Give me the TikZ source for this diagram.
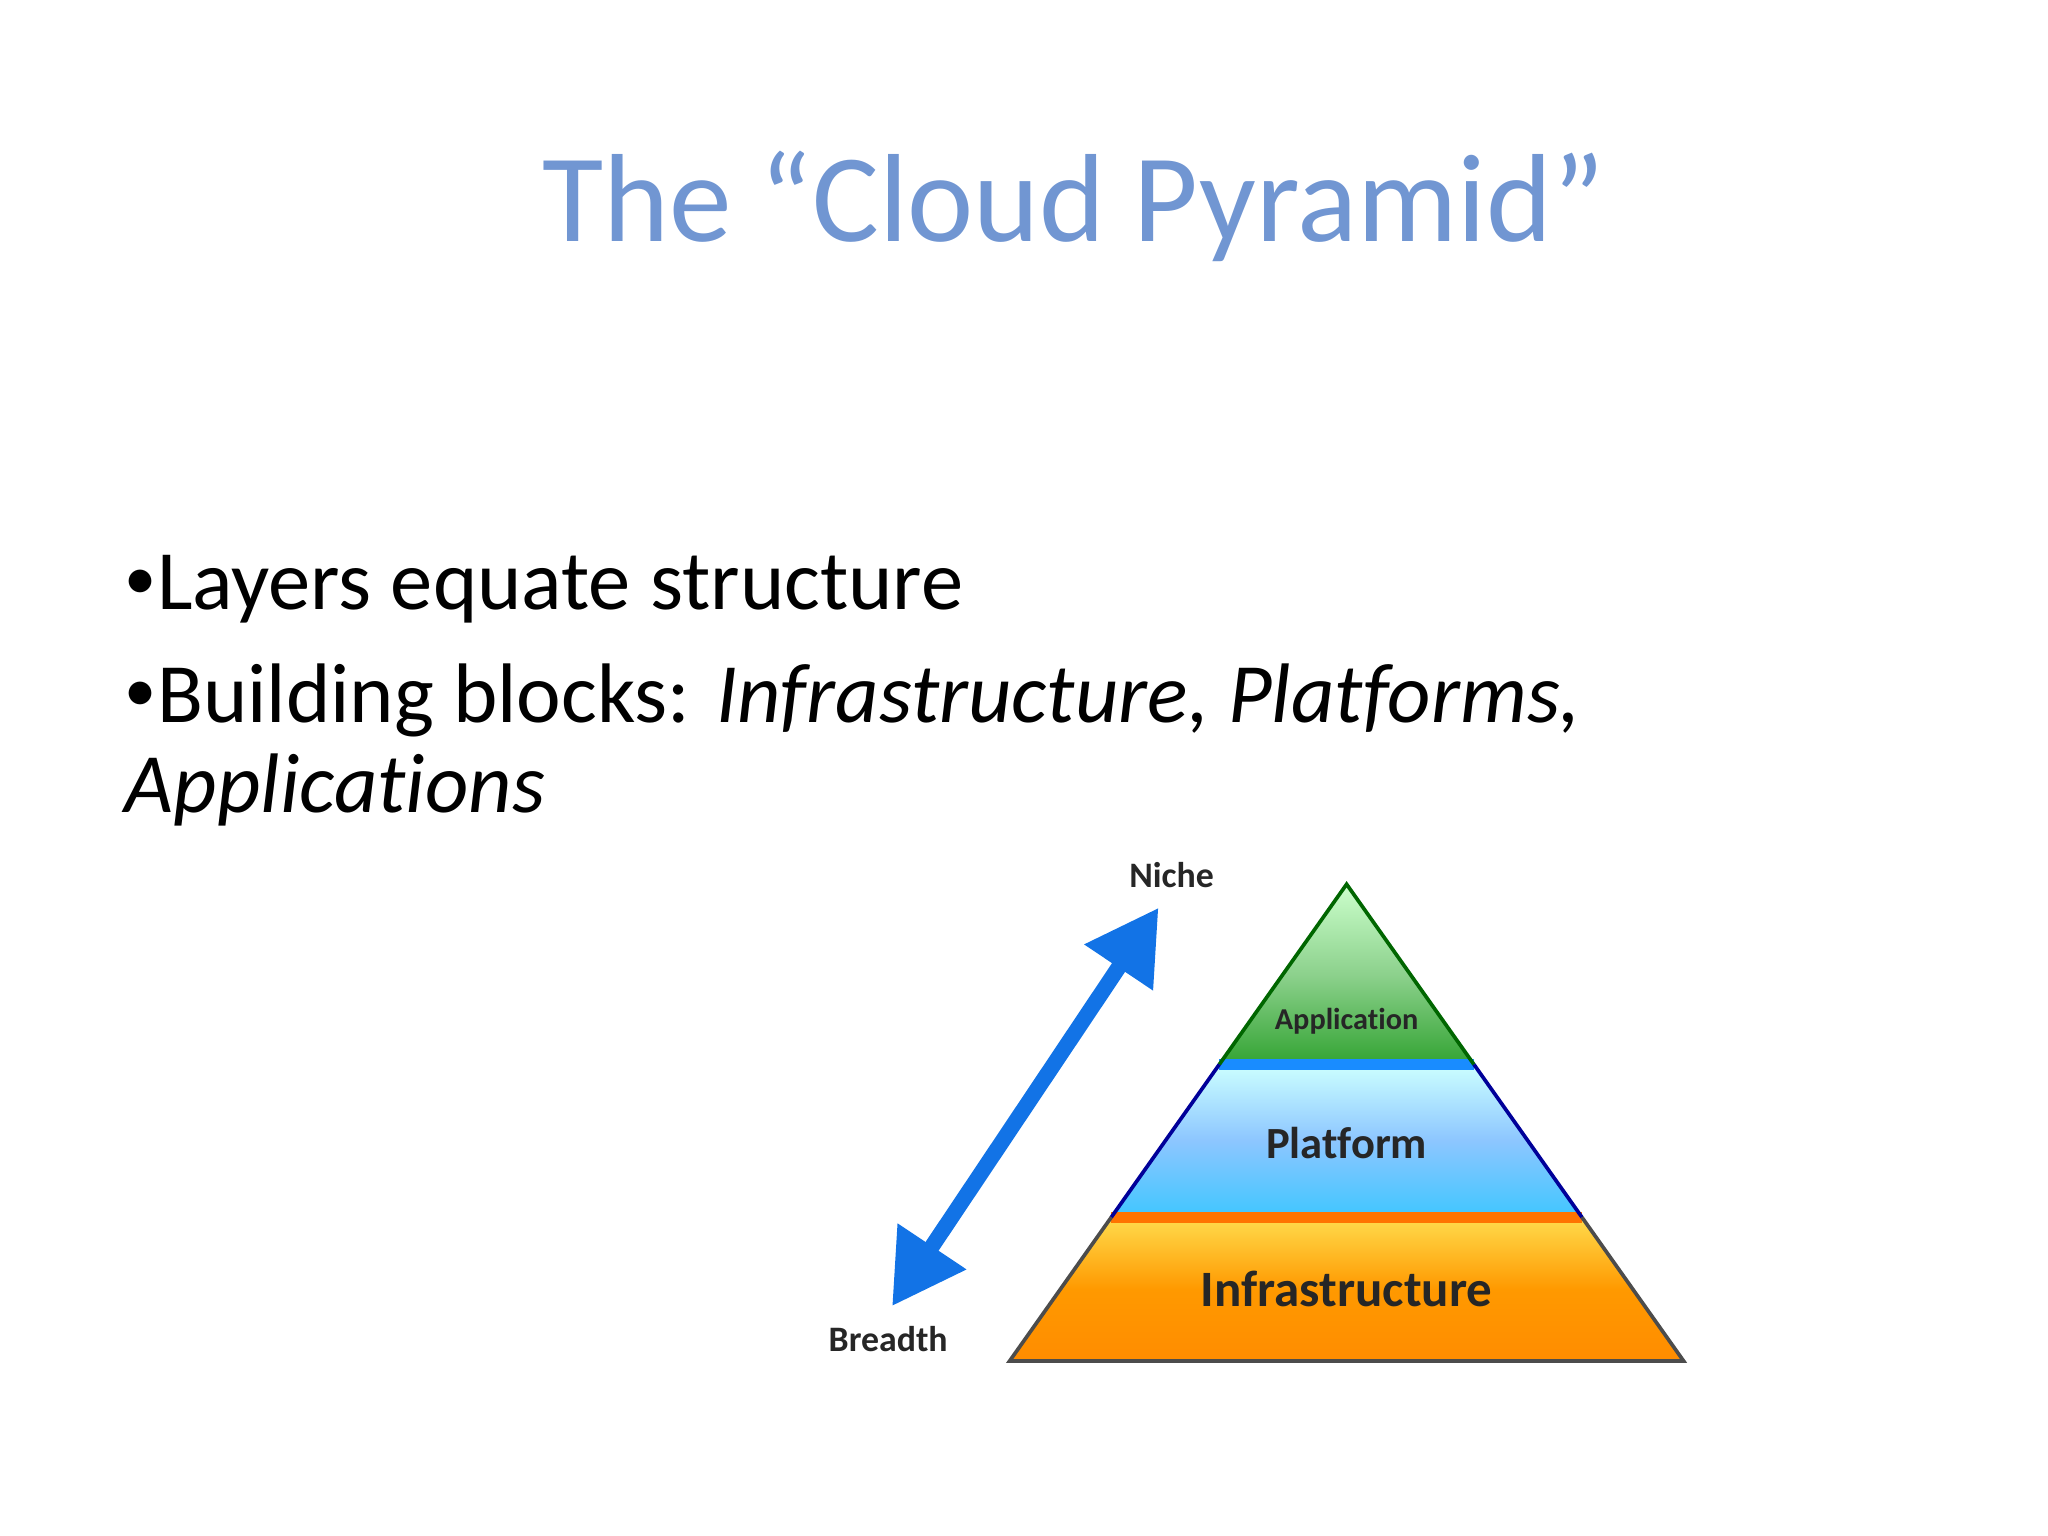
\documentclass[tikz,border=0pt]{standalone}
\usepackage{fontspec}
\setmainfont{Carlito}[RawFeature=-liga]
\usetikzlibrary{arrows.meta}
\definecolor{titleblue}{HTML}{7196D2}
\definecolor{arrblue}{HTML}{1273E6}
\newcommand{\sbul}{{\fontsize{14}{16}\selectfont\raisebox{0.35ex}{•}}}
\tikzset{
 lbl/.style={font=\bfseries, text=black!85},
 bul/.style={anchor=base west, font=\fontsize{18.4}{22}\selectfont, inner sep=0pt}
}
\begin{document}
\begin{tikzpicture}[x=0.01cm,y=-0.01cm]
\useasboundingbox (0,0) rectangle (1568,1176);
\node[text=titleblue, font=\fontsize{27.3}{32}\selectfont, anchor=base] (title) at (822,185) {The “Cloud Pyramid”};
\node[bul] (b1) at (95,467) {\sbul Layers equate structure};
\node[bul] (b2) at (95,553) {\sbul Building blocks: \textit{Infrastructure, Platforms,}};
\node[bul] (b3) at (95,622) {\textit{Applications}};
% pyramid layers
\shade[top color=green!20!white, bottom color=green!55!black!80, middle color=green!60!black!45] (1031,677) -- (1128.5,815) -- (933.5,815) -- cycle;
\shade[top color=cyan!20!white, bottom color=blue!30!cyan!75, middle color=cyan!50!blue!45] (933.5,815) -- (1128.5,815) -- (1211.2,932) -- (850.8,932) -- cycle;
\shade[top color=orange!40!yellow!70, bottom color=orange!90!yellow, middle color=orange!80!yellow] (850.8,932) -- (1211.2,932) -- (1289,1042) -- (773,1042) -- cycle;
\draw[blue!50!cyan!90, line width=2.5pt] (933.5,815) -- (1128.5,815);
\draw[orange!90!red, line width=2.5pt] (850.8,932) -- (1211.2,932);
\draw[green!40!black, line width=0.8pt] (933.5,815) -- (1031,677) -- (1128.5,815);
\draw[blue!60!black, line width=0.8pt] (933.5,815) -- (850.8,932) (1128.5,815) -- (1211.2,932);
\draw[black!70, line width=0.8pt] (850.8,932) -- (773,1042) -- (1289,1042) -- (1211.2,932);
\node[lbl, font=\bfseries\fontsize{6.6}{8}\selectfont] (app) at (1031,782) {Application};
\node[lbl, font=\bfseries\fontsize{9.7}{12}\selectfont] (plat) at (1031,875) {Platform};
\node[lbl, font=\bfseries\fontsize{11.1}{13}\selectfont] (inf) at (1031,987) {Infrastructure};
% arrow
\node[lbl, font=\bfseries\fontsize{7.8}{9}\selectfont] (niche) at (897,670) {Niche};
\node[lbl, font=\bfseries\fontsize{7.8}{9}\selectfont] (breadth) at (680,1025) {Breadth};
\coordinate (ta) at (887,695);
\coordinate (tb) at (683,1000);
\draw[arrblue, line width=0.12cm, {Triangle[length=0.55cm,width=0.6cm]}-{Triangle[length=0.55cm,width=0.6cm]}] (tb) -- (ta);
\end{tikzpicture}
\end{document}
